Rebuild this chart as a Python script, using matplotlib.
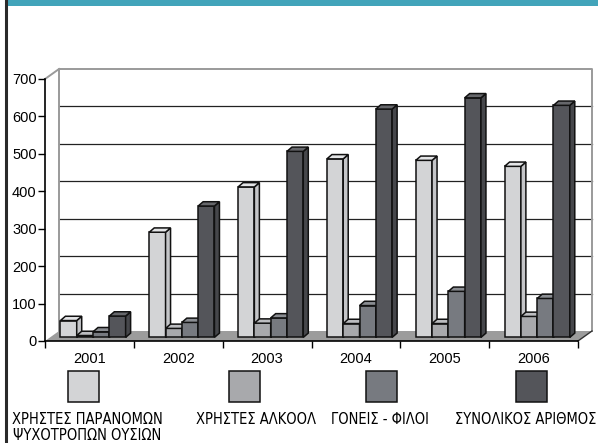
import matplotlib
matplotlib.use('Agg')
import matplotlib.pyplot as plt
from matplotlib.patches import Polygon, Rectangle
from matplotlib.lines import Line2D

years = ['2001', '2002', '2003', '2004', '2005', '2006']
drug_users = [45, 281, 402, 477, 473, 457]
alcohol_users = [5, 24, 38, 37, 37, 56]
parents_friends = [15, 40, 52, 85, 123, 104]
total = [57, 351, 497, 610, 640, 620]

series = [drug_users, alcohol_users, parents_friends, total]
labels = ['ΧΡΗΣΤΕΣ ΠΑΡΑΝΟΜΩΝ\nΨΥΧΟΤΡΟΠΩΝ ΟΥΣΙΩΝ', 'ΧΡΗΣΤΕΣ ΑΛΚΟΟΛ',
          'ΓΟΝΕΙΣ - ΦΙΛΟΙ', 'ΣΥΝΟΛΙΚΟΣ ΑΡΙΘΜΟΣ']
front = ['#d3d4d6', '#a8a9ac', '#777a80', '#54555a']
side = ['#c4c5c8', '#9a9b9e', '#686b71', '#46474b']
topc = ['#e4e5e7', '#bcbdc0', '#8a8d92', '#66676b']

W, H = 598, 443
fig = plt.figure(figsize=(W / 100, H / 100), dpi=100)
fig.patch.set_facecolor('white')

# header band and left frame line
fig.patches.append(Rectangle((7 / W, 1 - 6 / H), 1, 6 / H, transform=fig.transFigure,
                             facecolor='#42a4ba', edgecolor='none'))
fig.lines.append(Line2D([6 / W, 6 / W], [0, 1], transform=fig.transFigure,
                        color='#2a2a2a', lw=2.2))

ax = fig.add_axes([45 / W, 102 / H, 533 / W, 262 / H])
ax.set_xlim(-0.5, 5.5)
ax.set_ylim(0, 700)

ux = 533 / 6          # px per category
uy = 262 / 700        # px per value unit
wdx, wdy = 14 / ux, 10 / uy      # back wall offset
bdx, bdy = 5 / ux, 4.3 / uy      # bar depth
bx, by = 3.6 / ux, 3.6 / uy      # bar placement inside the depth
bw = 16.3 / ux

# floor
ax.add_patch(Polygon([(-0.5, 0), (5.5, 0), (5.5 + wdx, wdy), (-0.5 + wdx, wdy)],
                     closed=True, facecolor='#9c9c9c', edgecolor='none', clip_on=False, zorder=1))
ax.plot([5.5, 5.5 + wdx], [0, wdy], color='#333333', lw=1, clip_on=False, zorder=2)

# back wall grid and frame
for v in range(100, 700, 100):
    ax.plot([-0.5 + wdx, 5.5 + wdx], [v + wdy, v + wdy], color='#222222', lw=0.9,
            clip_on=False, zorder=1)
wall = '#9a9a9a'
ax.plot([-0.5 + wdx, -0.5 + wdx, 5.5 + wdx, 5.5 + wdx],
        [wdy, 700 + wdy, 700 + wdy, wdy], color=wall, lw=1.4, clip_on=False, zorder=1)
ax.plot([-0.5, -0.5 + wdx], [700, 700 + wdy], color=wall, lw=1.4, clip_on=False, zorder=1)

# 3d bars
for i in range(len(years)):
    x0 = i - 2 * bw + bx
    for k, vals in enumerate(series):
        xl = x0 + k * bw
        xr = xl + bw
        y0 = by
        y1 = by + vals[i]
        z = 3 + i * 10 + k
        ax.add_patch(Polygon([(xl, y0), (xr, y0), (xr, y1), (xl, y1)], closed=True,
                             facecolor=front[k], edgecolor='#111111', lw=1.1, zorder=z, clip_on=False))
        ax.add_patch(Polygon([(xr, y0), (xr + bdx, y0 + bdy), (xr + bdx, y1 + bdy), (xr, y1)],
                             closed=True, facecolor=side[k], edgecolor='#111111', lw=1.1,
                             zorder=z, clip_on=False))
        ax.add_patch(Polygon([(xl, y1), (xr, y1), (xr + bdx, y1 + bdy), (xl + bdx, y1 + bdy)],
                             closed=True, facecolor=topc[k], edgecolor='#111111', lw=1.1,
                             zorder=z, clip_on=False))

for s in ['top', 'right']:
    ax.spines[s].set_visible(False)
ax.spines['left'].set_linewidth(1.2)
ax.spines['bottom'].set_linewidth(1.2)
ax.spines['left'].set_zorder(200)
ax.spines['bottom'].set_zorder(200)

ax.set_yticks(range(0, 701, 100))
ax.tick_params(axis='y', length=5, width=1, pad=1, labelsize=10.5)
ax.set_xticks([i - 0.5 for i in range(7)])
ax.set_xticklabels([])
ax.set_xticks(range(6), minor=True)
ax.set_xticklabels(years, minor=True)
ax.tick_params(axis='x', which='major', length=5, width=1, direction='out')
ax.tick_params(axis='x', which='minor', length=0, pad=8, labelsize=10.5)
for t in ax.get_yticklabels() + ax.get_xticklabels(minor=True):
    t.set_fontfamily(['Liberation Sans', 'DejaVu Sans'])

# legend
box_x = [68, 229, 366, 516]
text_x = [87, 256, 380, 596]
text_ha = ['center', 'center', 'center', 'right']
for k in range(4):
    fig.patches.append(Rectangle((box_x[k] / W, 1 - 402 / H), 31 / W, 31 / H,
                                 transform=fig.transFigure, facecolor=front[k],
                                 edgecolor='#111111', lw=1.1))
    fig.text(text_x[k] / W, 1 - 412 / H, labels[k], ha=text_ha[k], va='top',
             fontsize=10.5, linespacing=1.05, color='black',
             family='DejaVu Sans', fontstretch='condensed')

fig.savefig('out.png', dpi=100)
